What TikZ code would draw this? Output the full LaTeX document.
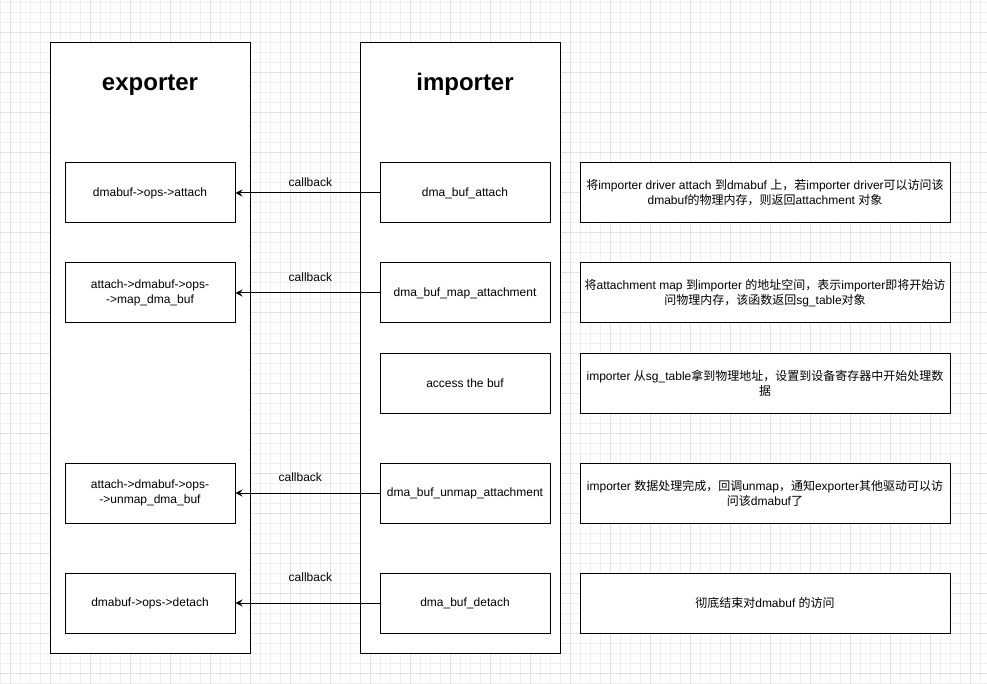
\documentclass[tikz,border=0pt]{standalone}
\usepackage{fontspec}
\setmainfont{Liberation Sans}
\newfontfamily\cjk{Noto Sans CJK SC}
\newcommand\zh[1]{{\cjk #1}}
\usepackage{tikz}
\usetikzlibrary{arrows.meta}
\usetikzlibrary{positioning}
\definecolor{gridminor}{RGB}{240,240,240}
\definecolor{gridmajor}{RGB}{226,226,226}
\tikzstyle{colbox}=[rectangle,draw=black,fill=white,minimum width=200pt,minimum height=610pt,inner sep=0pt]
\tikzstyle{coltitle}=[font=\fontsize{24}{28}\selectfont\bfseries,anchor=base,inner sep=0pt]
\tikzstyle{callbox}=[rectangle,draw=black,fill=white,minimum width=170pt,minimum height=60pt,inner sep=0pt,align=center,font=\fontsize{12}{14.5}\selectfont]
\tikzstyle{notebox}=[rectangle,draw=black,fill=white,minimum width=370pt,minimum height=60pt,inner sep=0pt,align=center,font=\fontsize{12}{15}\selectfont]
\tikzstyle{lbl}=[font=\fontsize{12}{14}\selectfont,inner sep=0pt]
\tikzstyle{arrow}=[-{Stealth[length=7pt,width=7pt,inset=2.5pt]}]
\tikzset{every picture/.style={
    line width=1pt
  }
}

\begin{document}
\begin{tikzpicture}[x=1pt,y=-1pt]
        \useasboundingbox (0,0) rectangle (987,684);
        \fill[white] (0,0) rectangle (987,684);
        \foreach \x in {0,10,...,980} \draw[gridminor] (\x,0) -- (\x,684);
        \foreach \y in {3,13,...,683} \draw[gridminor] (0,\y) -- (987,\y);
        \foreach \x in {10,50,...,970} \draw[gridmajor] (\x,0) -- (\x,684);
        \foreach \y in {33,73,...,673} \draw[gridmajor] (0,\y) -- (987,\y);
        \node[colbox] at (150,348) (exporter) {};
        \node[colbox] at (460,348) (importer) {};
        \node[coltitle] at (150,91) (exptitle) {exporter};
        \node[coltitle] at (465,91) (imptitle) {importer};
        \node[callbox] at (150,193) (eattach) {dmabuf->ops->attach};
        \node[callbox] at (150,293) (emap) {attach->dmabuf->ops-\\->map\_dma\_buf};
        \node[callbox] at (150,493) (eunmap) {attach->dmabuf->ops-\\->unmap\_dma\_buf};
        \node[callbox] at (150,603) (edetach) {dmabuf->ops->detach};
        \node[callbox] at (465,193) (iattach) {dma\_buf\_attach};
        \node[callbox] at (465,293) (imap) {dma\_buf\_map\_attachment};
        \node[callbox] at (465,383) (iaccess) {access the buf};
        \node[callbox] at (465,493) (iunmap) {dma\_buf\_unmap\_attachment};
        \node[callbox] at (465,603) (idetach) {dma\_buf\_detach};
        \node[notebox] at (765,193) (nattach) {\zh{将}importer driver attach \zh{到}dmabuf \zh{上，若}importer driver\zh{可以访问该}\\dmabuf\zh{的物理内存，则返回}attachment \zh{对象}};
        \node[notebox] at (765,293) (nmap) {\zh{将}attachment map \zh{到}importer \zh{的地址空间，表示}importer\zh{即将开始访}\\\zh{问物理内存，该函数返回}sg\_table\zh{对象}};
        \node[notebox] at (765,383) (naccess) {importer \zh{从}sg\_table\zh{拿到物理地址，设置到设备寄存器中开始处理数}\\\zh{据}};
        \node[notebox] at (765,493) (nunmap) {importer \zh{数据处理完成，回调}unmap\zh{，通知}exporter\zh{其他驱动可以访}\\\zh{问该}dmabuf\zh{了}};
        \node[notebox] at (765,603) (ndetach) {\zh{彻底结束对}dmabuf \zh{的访问}};
        \draw[arrow] (iattach) -- (eattach) node[lbl, pos=0.48, above=5.5pt] {callback};
        \draw[arrow] (imap) -- (emap) node[lbl, pos=0.48, above=10.5pt] {callback};
        \draw[arrow] (iunmap) -- (eunmap) node[lbl, pos=0.55, above=10.5pt] {callback};
        \draw[arrow] (idetach) -- (edetach) node[lbl, pos=0.48, above=20.5pt] {callback};
      \end{tikzpicture}
\end{document}
